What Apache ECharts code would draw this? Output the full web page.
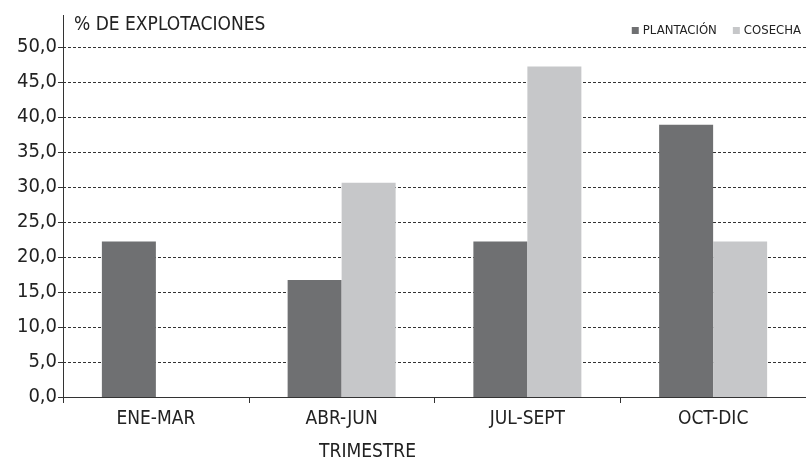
<!DOCTYPE html>
<html>
<head>
<meta charset="utf-8">
<script src="https://cdn.jsdelivr.net/npm/echarts@6/dist/echarts.min.js"></script>
<style>
  html, body { margin: 0; padding: 0; background: #fff; }
  #chart { width: 806px; height: 467px; }
</style>
</head>
<body>
<div id="chart"></div>
<script>
// datos
const trimestres = ["ENE-MAR", "ABR-JUN", "JUL-SEPT", "OCT-DIC"];
const plantacion = [22.2, 16.7, 22.2, 38.9];
const cosecha = [0, 30.6, 47.2, 22.2];

const font = '"Liberation Sans Narrow", "DejaVu Sans Condensed", sans-serif';

const myChart = echarts.init(document.getElementById("chart"), null, { renderer: "canvas" });

const option = {
  animation: false,
  textStyle: { fontFamily: font },
  grid: { left: 63, right: 0, top: 47, bottom: 68 },
  legend: {
    right: 0,
    top: 19,
    itemWidth: 7,
    itemHeight: 7,
    itemGap: 16,
    icon: "rect",
    textStyle: { fontFamily: font, fontSize: 13, color: "#222", padding: [0, 0, 0, -1] },
    data: ["PLANTACIÓN", "COSECHA"],
  },
  graphic: [
    {
      // prolongación del eje vertical por encima de 50
      type: "line",
      shape: { x1: 63.5, y1: 15, x2: 63.5, y2: 47 },
      style: { stroke: "#333", lineWidth: 1 },
    },
    {
      type: "text",
      left: 74,
      top: 16,
      style: { text: "% DE EXPLOTACIONES", font: "19px " + font, fill: "#222" },
    },
  ],
  xAxis: {
    type: "category",
    data: trimestres,
    name: "TRIMESTRE",
    nameLocation: "middle",
    nameGap: 46,
    nameTextStyle: { fontFamily: font, fontSize: 19, color: "#222", padding: [0, 0, 0, -134] },
    axisLine: { lineStyle: { color: "#333", width: 1 } },
    axisTick: { show: true, length: 6, lineStyle: { color: "#333" } },
    axisLabel: { fontFamily: font, fontSize: 19, color: "#222", margin: 13 },
  },
  yAxis: {
    type: "value",
    min: 0,
    max: 50,
    interval: 5,
    axisLine: { show: true, lineStyle: { color: "#333", width: 1 } },
    axisTick: { show: true, length: 5, lineStyle: { color: "#333" } },
    axisLabel: {
      fontFamily: font,
      fontSize: 20,
      color: "#222",
      margin: 6,
      formatter: (v) => v.toFixed(1).replace(".", ","),
    },
    splitLine: { lineStyle: { color: "#333", type: [3, 2], width: 1 } },
  },
  series: [
    {
      name: "PLANTACIÓN",
      type: "bar",
      data: plantacion,
      barWidth: 54,
      barGap: "0%",
      itemStyle: { color: "#6f7072" },
    },
    {
      name: "COSECHA",
      type: "bar",
      data: cosecha,
      barWidth: 54,
      itemStyle: { color: "#c6c7c9" },
    },
  ],
};

myChart.setOption(option);
</script>
</body>
</html>
